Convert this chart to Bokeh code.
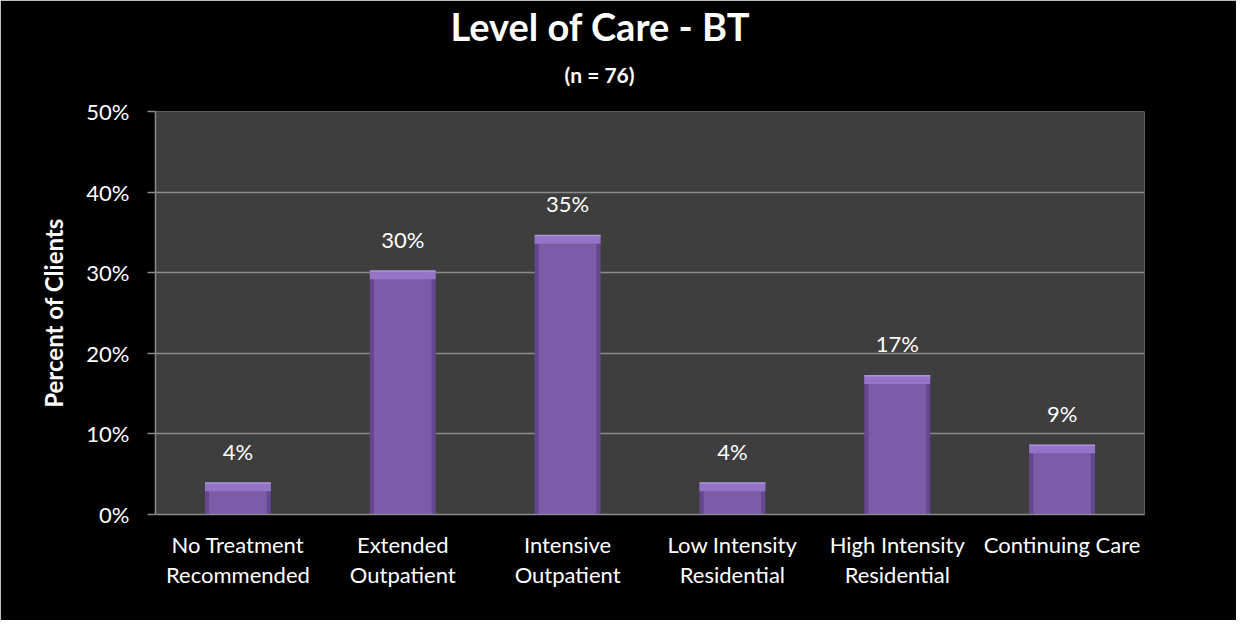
from bokeh.plotting import figure
from bokeh.models import (Range1d, FixedTicker, PrintfTickFormatter, ColumnDataSource, Title,
                          CategoricalAxis, CustomJSTickFormatter)
from bokeh.core.properties import value
from bokeh.embed import file_html
from bokeh.resources import INLINE

categories = ["No Treatment Recommended", "Extended Outpatient", "Intensive Outpatient",
              "Low Intensity Residential", "High Intensity Residential", "Continuing Care"]
label_line1 = ["No Treatment", "Extended", "Intensive", "Low Intensity", "High Intensity", "Continuing Care"]
label_line2 = ["Recommended", "Outpatient", "Outpatient", "Residential", "Residential", ""]
percents = [3.9, 30.2, 34.6, 3.9, 17.2, 8.6]
bar_labels = ["4%", "30%", "35%", "4%", "17%", "9%"]
y_ticks = [0, 10, 20, 30, 40, 50]

FONT = "Lato"
W, H = 1236, 620
GRID = "#8a8a8a"

p = figure(x_range=categories, y_range=Range1d(0, 50), width=W, height=H, title=None,
           output_backend="svg", toolbar_location=None,
           min_border_left=155, min_border_right=92, min_border_top=111, min_border_bottom=106)
p.background_fill_color = "#3e3e3e"
p.border_fill_color = "black"
p.outline_line_color = None

src = ColumnDataSource(dict(cat=categories, top=percents, lab=bar_labels,
                            cap=[v - 1.0 for v in percents]))

# bar body with darker edge, lighter center and beveled top
p.vbar(x="cat", top="top", width=0.4, source=src, fill_color="#65478f", line_color=None)
p.vbar(x="cat", top="top", width=0.35, source=src, fill_color="#7c5ca9", line_color=None)
p.vbar(x="cat", top="top", bottom="cap", width=0.4, source=src, fill_color="#9474c6", line_color=None)
p.vbar(x="cat", top="top", bottom="top", width=0.4, source=src, line_color="#b192e0", line_width=1.5)

p.text(x="cat", y="top", text="lab", source=src, text_color="white",
       text_font=value(FONT), text_font_size="22px", text_align="center",
       text_baseline="middle", y_offset=-32)

# grid
p.xgrid.grid_line_color = None
p.ygrid.ticker = FixedTicker(ticks=y_ticks)
p.ygrid.grid_line_color = GRID
p.ygrid.grid_line_width = 1.5

# y axis
p.yaxis.ticker = FixedTicker(ticks=y_ticks)
p.yaxis.formatter = PrintfTickFormatter(format="%d%%")
p.yaxis.axis_line_color = GRID
p.yaxis.axis_line_width = 1.5
p.yaxis.major_tick_line_color = GRID
p.yaxis.major_tick_line_width = 1.5
p.yaxis.major_tick_out = 8
p.yaxis.major_tick_in = 0
p.yaxis.minor_tick_line_color = None
p.yaxis.major_label_text_color = "white"
p.yaxis.major_label_text_font = FONT
p.yaxis.major_label_text_font_size = "22px"
p.yaxis.major_label_standoff = 18
p.yaxis.axis_label = "Percent of Clients"
p.yaxis.axis_label_text_color = "white"
p.yaxis.axis_label_text_font = FONT
p.yaxis.axis_label_text_font_style = "bold"
p.yaxis.axis_label_text_font_size = "24px"
p.yaxis.axis_label_standoff = 15

# x axis: two label rows
line1_map = dict(zip(categories, label_line1))
line2_map = dict(zip(categories, label_line2))
fmt_code = "return (tick in m) ? m[tick] : tick;"

p.xaxis.formatter = CustomJSTickFormatter(args=dict(m=line1_map), code=fmt_code)
p.xaxis.axis_line_color = GRID
p.xaxis.axis_line_width = 1.5
p.xaxis.major_tick_line_color = None
p.xaxis.minor_tick_line_color = None
p.xaxis.major_label_text_color = "white"
p.xaxis.major_label_text_font = FONT
p.xaxis.major_label_text_font_size = "22px"
p.xaxis.major_label_standoff = 10

ax2 = CategoricalAxis(axis_line_color=None, major_tick_line_color=None, minor_tick_line_color=None,
                      formatter=CustomJSTickFormatter(args=dict(m=line2_map), code=fmt_code),
                      major_label_text_color="white", major_label_text_font=FONT,
                      major_label_text_font_size="22px", major_label_standoff=-6)
p.add_layout(ax2, "below")

# titles (subtitle first: closest to frame)
p.add_layout(Title(text="(n = 76)", text_color="white", text_font=FONT, text_font_style="bold",
                   text_font_size="21px", align="left", offset=409, standoff=50), "above")
p.add_layout(Title(text="Level of Care - BT", text_color="white", text_font=FONT,
                   text_font_style="bold", text_font_size="38px", align="left", offset=295,
                   standoff=-29), "above")

open("out.html", "w").write(file_html(p, INLINE))
